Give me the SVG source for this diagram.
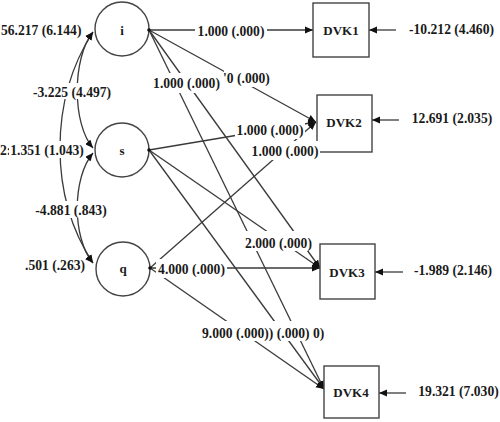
<svg xmlns="http://www.w3.org/2000/svg" width="500" height="422" viewBox="0 0 500 422">
<style>
.bg{fill:#fff}
.n{fill:#fff;stroke:#444;stroke-width:1.4}
.t{font-family:"Liberation Serif","Times New Roman",serif;font-weight:bold;font-size:13.6px;fill:#1a1a1a}
.nm{font-family:"Liberation Serif","Times New Roman",serif;font-weight:bold;font-size:13px;fill:#1a1a1a;text-anchor:middle}
.c{text-anchor:middle}
.ln{fill:none;stroke:#3a3a3a;stroke-width:1.3}
.dot{fill:#111}
</style>
<defs>
<marker id="ah" markerUnits="userSpaceOnUse" markerWidth="9" markerHeight="8" refX="8" refY="4" orient="auto-start-reverse" viewBox="0 0 9 8"><path d="M0,0.5 L8,4 L0,7.5 z" fill="#111"/></marker>
</defs>
<rect width="500" height="422" fill="#fff"/>
<g id="connectors">
<path class="ln" d="M149,30 L313,30" marker-end="url(#ah)"/>
<path class="ln" d="M149,30 L316,122" marker-end="url(#ah)"/>
<path class="ln" d="M149,30 L320,268" marker-end="url(#ah)"/>
<path class="ln" d="M149,30 L324,389" marker-end="url(#ah)"/>
<path class="ln" d="M149,150 L316,122" marker-end="url(#ah)"/>
<path class="ln" d="M149,150 L320,268" marker-end="url(#ah)"/>
<path class="ln" d="M149,150 L324,389" marker-end="url(#ah)"/>
<path class="ln" d="M150,268 L316,122" marker-end="url(#ah)"/>
<path class="ln" d="M150,268 L320,268" marker-end="url(#ah)"/>
<path class="ln" d="M150,268 L324,389" marker-end="url(#ah)"/>
<path class="ln" d="M396,30 L369,30" marker-end="url(#ah)"/>
<path class="ln" d="M399,120 L372,120" marker-end="url(#ah)"/>
<path class="ln" d="M403,272 L375,272" marker-end="url(#ah)"/>
<path class="ln" d="M406,393 L379,393" marker-end="url(#ah)"/>
<path class="ln" d="M93,32 C72,58 72,124 93,148" marker-start="url(#ah)" marker-end="url(#ah)"/>
<path class="ln" d="M93,32 C49,100 49,196 93,263" marker-start="url(#ah)" marker-end="url(#ah)"/>
<path class="ln" d="M93,153 C72,178 72,238 93,263" marker-start="url(#ah)" marker-end="url(#ah)"/>
</g>
<g id="node-i"><circle class="n" cx="122" cy="29" r="27"/><text class="nm" x="122" y="35" font-size="14">i</text><circle class="dot" cx="149" cy="30" r="1.8"/></g>
<g id="node-s"><circle class="n" cx="122" cy="150" r="27"/><text class="nm" x="122" y="155" font-size="14">s</text><circle class="dot" cx="149" cy="150" r="1.8"/></g>
<g id="node-q"><circle class="n" cx="123" cy="269" r="27"/><text class="nm" x="123" y="273" font-size="14">q</text><circle class="dot" cx="150" cy="268" r="1.8"/></g>
<g id="node-DVK1"><rect class="n" x="313" y="3" width="56" height="54"/><text class="nm" x="341" y="35">DVK1</text></g>
<g id="node-DVK2"><rect class="n" x="317" y="95" width="55" height="57"/><text class="nm" x="344" y="127">DVK2</text></g>
<g id="node-DVK3"><rect class="n" x="320" y="244" width="55" height="55"/><text class="nm" x="347" y="277">DVK3</text></g>
<g id="node-DVK4"><rect class="n" x="324" y="366" width="55" height="52"/><text class="nm" x="351" y="397">DVK4</text></g>
<g id="labels">
<rect class="bg" x="195" y="21" width="72" height="19"/><text class="t c" x="231" y="35.5">1.000 (.000)</text>
<rect class="bg" x="224" y="68" width="45" height="19"/><text class="t c" x="246.5" y="82.5">'0 (.000)</text>
<rect class="bg" x="151" y="73" width="71" height="20"/><text class="t c" x="186.5" y="87.5">1.000 (.000)</text>
<rect class="bg" x="235" y="120" width="70" height="19"/><text class="t c" x="270" y="134.5">1.000 (.000)</text>
<rect class="bg" x="250" y="141" width="70" height="19"/><text class="t c" x="285" y="155.5">1.000 (.000)</text>
<rect class="bg" x="243" y="231" width="71" height="20"/><text class="t c" x="278.5" y="247.5">2.000 (.000)</text>
<rect class="bg" x="156" y="259" width="71" height="19"/><text class="t c" x="191.5" y="273.5">4.000 (.000)</text>
<rect class="bg" x="200" y="321" width="129" height="20"/><text class="t" x="202" y="337.5">9.000 (.000)) (.000) 0)</text>
<text class="t" x="1" y="34.5">56.217 (6.144)</text>
<rect class="bg" x="33" y="83" width="78" height="16"/><text class="t c" x="72" y="96.5">-3.225 (4.497)</text>
<text class="t" x="0" y="154.5">2:</text>
<rect class="bg" x="9" y="141" width="77" height="17"/><text class="t c" x="47" y="154.5">1.351 (1.043)</text>
<rect class="bg" x="34" y="201" width="75" height="17"/><text class="t c" x="71" y="214.5">-4.881 (.843)</text>
<text class="t c" x="55" y="269.5">.501 (.263)</text>
<text class="t c" x="451.5" y="33.5">-10.212 (4.460)</text>
<text class="t c" x="452" y="122.5">12.691 (2.035)</text>
<text class="t c" x="453" y="274.5">-1.989 (2.146)</text>
<text class="t c" x="458.5" y="395.5">19.321 (7.030)</text>
</g>
</svg>
